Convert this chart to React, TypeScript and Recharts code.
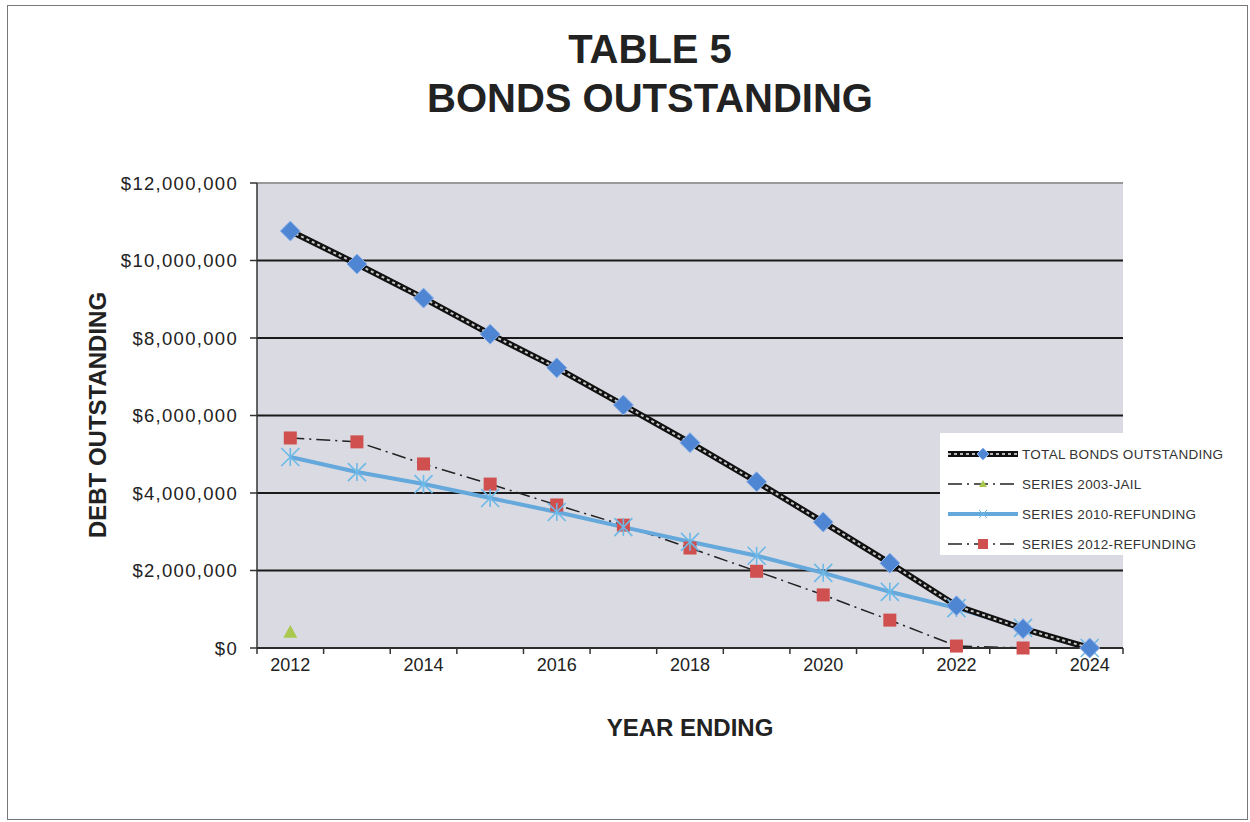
import React from 'react'
import { LineChart, Line, XAxis, YAxis, CartesianGrid, ReferenceLine } from 'recharts'

// ---- data ----
const years = [2012, 2013, 2014, 2015, 2016, 2017, 2018, 2019, 2020, 2021, 2022, 2023, 2024]
const totalBonds = [10760000, 9910000, 9030000, 8100000, 7230000, 6270000, 5300000, 4290000, 3250000, 2190000, 1090000, 500000, 0]
const series2003Jail = [410000, null, null, null, null, null, null, null, null, null, null, null, null]
const series2010 = [4930000, 4540000, 4230000, 3870000, 3510000, 3120000, 2740000, 2380000, 1940000, 1450000, 1030000, 520000, 0]
const series2012 = [5420000, 5320000, 4750000, 4230000, 3690000, 3170000, 2580000, 1980000, 1370000, 720000, 50000, 0, null]
const yTicks = [0, 2000000, 4000000, 6000000, 8000000, 10000000, 12000000]
const labelYears = [2012, 2014, 2016, 2018, 2020, 2022, 2024]

const data = years.map((year, i) => ({
  year,
  total:  totalBonds[i],
  jail:   series2003Jail[i],
  s2010:  series2010[i],
  s2012:  series2012[i],
}))

const boundaries = [...years.map(y => y - 0.5), years[years.length - 1] + 0.5]
const xTicks = [...boundaries, ...labelYears].sort((a, b) => a - b)

const FONT = '"Liberation Sans", Arial, sans-serif'
const money = (v: number) => '$' + v.toLocaleString('en-US')

function XTick({ x, y, payload }: any) {
  const v = payload.value
  if (Number.isInteger(v)) {
    return (
      <text x={x} y={y + 23} textAnchor="middle" fontSize={18} fill="#222" fontFamily={FONT}>
        {v}
      </text>
    )
  }
  return <line x1={x} x2={x} y1={y} y2={y + 6} stroke="#333" strokeWidth={1.5} />
}

function Diamond({ cx, cy, index }: any) {
  if (cx == null || cy == null) return <g key={index} />
  const r = 10
  return (
    <polygon
      key={index}
      points={`${cx},${cy - r} ${cx + r},${cy} ${cx},${cy + r} ${cx - r},${cy}`}
      fill="#4f86d4"
      stroke="#8fb4ea"
      strokeWidth={1}
    />
  )
}

function Square({ cx, cy, index }: any) {
  if (cx == null || cy == null) return <g key={index} />
  const s = 6.5
  return <rect key={index} x={cx - s} y={cy - s} width={s * 2} height={s * 2} fill="#d0504f" />
}

function Star({ cx, cy, index }: any) {
  if (cx == null || cy == null) return <g key={index} />
  const r = 9
  return (
    <g key={index} stroke="#6cb8e6" strokeWidth={1.6}>
      <line x1={cx - r} y1={cy - r} x2={cx + r} y2={cy + r} />
      <line x1={cx - r} y1={cy + r} x2={cx + r} y2={cy - r} />
      <line x1={cx} y1={cy - r} x2={cx} y2={cy + r} />
    </g>
  )
}

function Triangle({ cx, cy, index }: any) {
  if (cx == null || cy == null) return <g key={index} />
  const r = 7
  return (
    <polygon key={index} points={`${cx},${cy - r} ${cx + r},${cy + r * 0.8} ${cx - r},${cy + r * 0.8}`} fill="#a9c84f" />
  )
}

function LegendBox() {
  const row = { display: 'flex', alignItems: 'center', height: 30 }
  const txt = { fontSize: 13.5, color: '#333', marginLeft: 4, letterSpacing: 0.3 }
  return (
    <div style={{
      position: 'absolute', left: 933, top: 428, width: 298, height: 122,
      background: '#fff', fontFamily: FONT, padding: '6px 0 0 8px', boxSizing: 'border-box',
    }}>
      <div style={row}>
        <svg width={70} height={14}>
          <line x1={0} x2={70} y1={7} y2={7} stroke="#111" strokeWidth={6} />
          <line x1={0} x2={70} y1={7} y2={7} stroke="#bbb" strokeWidth={2} strokeDasharray="3 3" />
          <polygon points="35,1 41,7 35,13 29,7" fill="#4f86d4" stroke="#8fb4ea" />
        </svg>
        <span style={txt}>TOTAL BONDS OUTSTANDING</span>
      </div>
      <div style={row}>
        <svg width={70} height={14}>
          <line x1={0} x2={70} y1={7} y2={7} stroke="#222" strokeWidth={1.5} strokeDasharray="14 5 2 5" />
          <polygon points="35,3 39,10 31,10" fill="#a9c84f" />
        </svg>
        <span style={txt}>SERIES 2003-JAIL</span>
      </div>
      <div style={row}>
        <svg width={70} height={14}>
          <line x1={0} x2={70} y1={7} y2={7} stroke="#64a8dc" strokeWidth={4} />
          <line x1={31} x2={39} y1={3} y2={11} stroke="#6cb8e6" />
          <line x1={31} x2={39} y1={11} y2={3} stroke="#6cb8e6" />
        </svg>
        <span style={txt}>SERIES 2010-REFUNDING</span>
      </div>
      <div style={row}>
        <svg width={70} height={14}>
          <line x1={0} x2={70} y1={7} y2={7} stroke="#222" strokeWidth={1.5} strokeDasharray="14 5 2 5" />
          <rect x={30} y={2} width={10} height={10} fill="#d0504f" />
        </svg>
        <span style={txt}>SERIES 2012-REFUNDING</span>
      </div>
    </div>
  )
}

export default function App() {
  return (
    <div style={{ position: 'absolute', left: 7, top: 5, width: 1241, height: 815, background: '#fff', fontFamily: FONT }}>
      <div style={{ position: 'absolute', left: 0, width: 1286, top: 20, textAlign: 'center', fontSize: 40, fontWeight: 'bold', color: '#222', lineHeight: '49px' }}>
        TABLE 5<br />BONDS OUTSTANDING
      </div>

      <div style={{ position: 'absolute', left: 0, top: 0 }}>
        <LineChart
          width={1241}
          height={815}
          data={data}
          margin={{ top: 178, right: 125, left: 130, bottom: 142 }}
        >
          <CartesianGrid vertical={false} fill="#dadae3" stroke="#1a1a1a" strokeWidth={2} yAxisId="l" />
          <ReferenceLine yAxisId="l" y={12000000} stroke="#999" strokeWidth={2} />
          <XAxis
            dataKey="year"
            type="number"
            domain={[boundaries[0], boundaries[boundaries.length - 1]]}
            ticks={xTicks}
            interval={0}
            tickSize={0}
            tickMargin={0}
            tickLine={false}
            tick={<XTick />}
            axisLine={{ stroke: '#333', strokeWidth: 1.5 }}
            height={30}
          />
          <YAxis
            yAxisId="l"
            domain={[0, 12000000]}
            ticks={yTicks}
            interval={0}
            tickFormatter={money}
            tickSize={7}
            tickMargin={12}
            tick={{ fontSize: 18.5, fill: '#222', fontFamily: FONT, letterSpacing: 1.3 }}
            tickLine={{ stroke: '#333', strokeWidth: 1.5 }}
            axisLine={{ stroke: '#333', strokeWidth: 1.5 }}
            width={120}
          />
          <YAxis
            yAxisId="r"
            orientation="right"
            domain={[0, 12000000]}
            ticks={yTicks}
            tick={false}
            tickLine={false}
            axisLine={{ stroke: '#888', strokeWidth: 1 }}
            width={0}
          />

          <Line yAxisId="l" dataKey="s2012" stroke="#222" strokeWidth={1.5} strokeDasharray="14 5 2 5" dot={<Square />} isAnimationActive={false} />
          <Line yAxisId="l" dataKey="s2010" stroke="#64a8dc" strokeWidth={4} dot={<Star />} isAnimationActive={false} />
          <Line yAxisId="l" dataKey="jail" stroke="#222" strokeWidth={1.5} strokeDasharray="14 5 2 5" dot={<Triangle />} isAnimationActive={false} />
          <Line yAxisId="l" dataKey="total" stroke="#111" strokeWidth={6} dot={false} isAnimationActive={false} />
          <Line yAxisId="l" dataKey="total" stroke="#c8c8c8" strokeWidth={2} strokeDasharray="3 3" dot={<Diamond />} isAnimationActive={false} />
        </LineChart>
      </div>

      <div style={{
        position: 'absolute', left: 91, top: 410, transform: 'translate(-50%, -50%) rotate(-90deg)',
        fontSize: 24, fontWeight: 'bold', color: '#222', whiteSpace: 'nowrap',
      }}>
        DEBT OUTSTANDING
      </div>
      <div style={{
        position: 'absolute', left: 683, top: 723, transform: 'translate(-50%, -50%)',
        fontSize: 24, fontWeight: 'bold', color: '#222', whiteSpace: 'nowrap',
      }}>
        YEAR ENDING
      </div>

      <LegendBox />

      <div style={{
        position: 'absolute', left: 0, top: 0, width: 1241, height: 815,
        border: '1.5px solid #777', boxSizing: 'border-box', pointerEvents: 'none',
      }} />
    </div>
  )
}
